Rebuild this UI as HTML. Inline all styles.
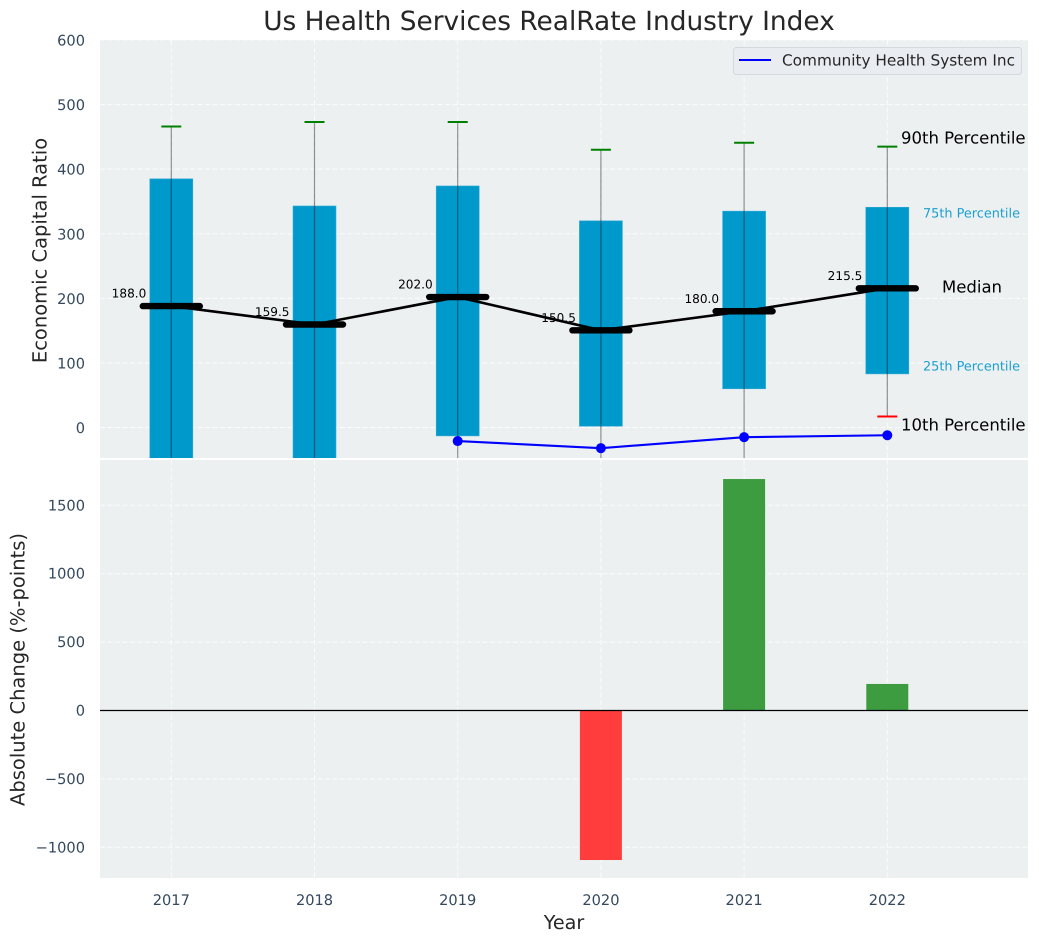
<!DOCTYPE html>
<html>
<head>
<meta charset="utf-8">
<title>Us Health Services RealRate Industry Index</title>
<style>
html,body{margin:0;padding:0;background:#fff;}
svg{display:block;font-family:"DejaVu Sans","Liberation Sans",sans-serif;text-rendering:geometricPrecision;}
</style>
</head>
<body>
<svg id="chart" width="1039" height="942" viewBox="0 0 1039 942" xmlns="http://www.w3.org/2000/svg">
<defs>
<clipPath id="clip-top"><rect x="100" y="40" width="928" height="418"></rect></clipPath>
<clipPath id="clip-bottom"><rect x="100" y="460" width="928" height="418"></rect></clipPath>
</defs>
</svg>
<script>
const years = [2017, 2018, 2019, 2020, 2021, 2022];
const p10 = [-120, -110, -90, -100, -80, 17];
const p25 = [-70, -60, -13, 2, 60, 83];
const medians = [188.0, 159.5, 202.0, 150.5, 180.0, 215.5];
const p75 = [385, 343, 374, 320, 335, 341];
const p90 = [466, 473, 473, 430, 441, 435];
const company = [null, null, -21, -32, -15, -12];
const changes = [0, 0, 0, -1093, 1692, 194];
const topTicks = [0, 100, 200, 300, 400, 500, 600];
const bottomTicks = [-1000, -500, 0, 500, 1000, 1500];

const svgRoot = document.getElementById('chart');
const NS = 'http://www.w3.org/2000/svg';
function xScale(v) { return 171.3 + (v - 2017) * 143.2; }
function yTop(v) { return 427.5 - v * 0.6458; }
function yBottom(v) { return 710.5 - v * 0.1368; }

function make(tag, name, attrs, parent, text) {
  const el = document.createElementNS(NS, tag);
  
  
  for (const k in attrs) el.setAttribute(k, attrs[k]);
  if (text !== undefined) el.textContent = text;
  (parent || svgRoot).appendChild(el);
  return el;
}
function addLabel(name, x, y, str, size, fill, anchor, parent) {
  return make('text', name, {x: 0, y: 0, transform: 'translate(' + x + ',' + y + ')', 'font-size': size, fill: fill, 'text-anchor': anchor || 'start', 'dominant-baseline': 'central'}, parent, str);
}
const gridStyle = {stroke: '#ffffff', 'stroke-width': 1, 'stroke-dasharray': '5,2.5', 'stroke-opacity': 0.8};
const tickColor = '#34495e';
const textColor = '#262626';

/* backgrounds */
make('rect', 'top-panel-background', {x: 100, y: 40, width: 928, height: 418, fill: '#ecf0f1'});
make('rect', 'bottom-panel-background', {x: 100, y: 460, width: 928, height: 418, fill: '#ecf0f1'});

/* grids */
const topGrid = make('g', 'top-grid', {'clip-path': 'url(#clip-top)'});
const bottomGrid = make('g', 'bottom-grid', {'clip-path': 'url(#clip-bottom)'});
years.forEach(function (yr) {
  make('line', 'top-grid-x-' + yr, Object.assign({x1: xScale(yr), x2: xScale(yr), y1: 40, y2: 458}, gridStyle), topGrid);
  make('line', 'bottom-grid-x-' + yr, Object.assign({x1: xScale(yr), x2: xScale(yr), y1: 460, y2: 878}, gridStyle), bottomGrid);
});
topTicks.forEach(function (t) {
  make('line', 'top-grid-y-' + t, Object.assign({x1: 100, x2: 1028, y1: yTop(t), y2: yTop(t)}, gridStyle), topGrid);
  addLabel('top-y-tick-' + t, 85, yTop(t) + 1, String(t), 14.6, tickColor, 'end');
});
bottomTicks.forEach(function (t) {
  make('line', 'bottom-grid-y-' + t, Object.assign({x1: 100, x2: 1028, y1: yBottom(t), y2: yBottom(t)}, gridStyle), bottomGrid);
  addLabel('bottom-y-tick-' + t, 85, yBottom(t) + 0.5, String(t).replace('-', '\u2212'), 14.6, tickColor, 'end');
});

/* top panel marks */
const topArea = make('g', 'top-plot-area', {'clip-path': 'url(#clip-top)'});
const barHalf = 0.15 * 143.2;
years.forEach(function (yr, i) {
  const x = xScale(yr);
  make('rect', 'iqr-bar-' + yr, {x: x - barHalf, y: yTop(p75[i]), width: barHalf * 2, height: yTop(p25[i]) - yTop(p75[i]), fill: '#0099cc', stroke: '#33aad4', 'stroke-width': 0.6}, topArea);
});
years.forEach(function (yr, i) {
  const x = xScale(yr);
  make('line', 'whisker-' + yr, {x1: x, x2: x, y1: yTop(p10[i]), y2: yTop(p90[i]), stroke: '#000000', 'stroke-opacity': 0.42, 'stroke-width': 1.2}, topArea);
  make('line', 'p90-cap-' + yr, {x1: x - 10, x2: x + 10, y1: yTop(p90[i]), y2: yTop(p90[i]), stroke: '#008000', 'stroke-width': 2}, topArea);
  make('line', 'p10-cap-' + yr, {x1: x - 10, x2: x + 10, y1: yTop(p10[i]), y2: yTop(p10[i]), stroke: '#ff0000', 'stroke-width': 2}, topArea);
});
make('polyline', 'median-line', {points: years.map(function (yr, i) { return xScale(yr) + ',' + yTop(medians[i]); }).join(' '), fill: 'none', stroke: '#000000', 'stroke-width': 2.6}, topArea);
years.forEach(function (yr, i) {
  const x = xScale(yr), y = yTop(medians[i]);
  make('line', 'median-tick-' + yr, {x1: x - 28.5, x2: x + 28.5, y1: y, y2: y, stroke: '#000000', 'stroke-width': 6.4, 'stroke-linecap': 'round'}, topArea);
  addLabel('median-value-' + yr, x - 25, y - 12.5, medians[i].toFixed(1), 12.1, '#000000', 'end', topArea);
});
const companyPoints = [];
years.forEach(function (yr, i) { if (company[i] !== null) companyPoints.push(xScale(yr) + ',' + yTop(company[i])); });
make('polyline', 'company-line', {points: companyPoints.join(' '), fill: 'none', stroke: '#0000ff', 'stroke-width': 2.1}, topArea);
years.forEach(function (yr, i) {
  if (company[i] === null) return;
  make('circle', 'company-point-' + yr, {cx: xScale(yr), cy: yTop(company[i]), r: 5, fill: '#0000ff'}, topArea);
});

/* annotations */
addLabel('annotation-90th-percentile', 901, 138, '90th Percentile', 16.5, '#000000');
addLabel('annotation-75th-percentile', 923, 214, '75th Percentile', 12.85, '#1a9fd0');
addLabel('annotation-median', 942, 287, 'Median', 16.5, '#000000');
addLabel('annotation-25th-percentile', 923, 367, '25th Percentile', 12.85, '#1a9fd0');
addLabel('annotation-10th-percentile', 901, 425, '10th Percentile', 16.5, '#000000');

/* bottom panel marks */
const bottomArea = make('g', 'bottom-plot-area', {'clip-path': 'url(#clip-bottom)'});
years.forEach(function (yr, i) {
  if (changes[i] === 0) return;
  const y0 = yBottom(0), y1 = yBottom(changes[i]);
  make('rect', 'change-bar-' + yr, {x: xScale(yr) - 21, y: Math.min(y0, y1), width: 42, height: Math.abs(y1 - y0), fill: changes[i] >= 0 ? '#3c9c3f' : '#ff3d3d'}, bottomArea);
});
make('line', 'zero-line', {x1: 100, x2: 1028, y1: yBottom(0), y2: yBottom(0), stroke: '#000000', 'stroke-width': 1.2});

/* x ticks */
years.forEach(function (yr) {
  addLabel('x-tick-' + yr, xScale(yr), 900.5, String(yr), 14.6, tickColor, 'middle');
});

/* legend */
const legendGroup = make('g', 'legend', {});
make('rect', 'legend-frame', {x: 733.5, y: 47.5, width: 288, height: 27, rx: 3, fill: '#e9ecf1', stroke: '#d5d8dc', 'stroke-width': 1}, legendGroup);
make('line', 'legend-line', {x1: 739, x2: 771, y1: 60, y2: 60, stroke: '#0000ff', 'stroke-width': 2}, legendGroup);
addLabel('legend-label', 782, 60.5, 'Community Health System Inc', 15.3, textColor, 'start', legendGroup);

/* titles */
addLabel('chart-title', 549, 21.5, 'Us Health Services RealRate Industry Index', 26.4, textColor, 'middle');
addLabel('x-axis-title', 564, 922.5, 'Year', 19.2, textColor, 'middle');
const yTitleTop = addLabel('top-y-axis-title', 0, 0, 'Economic Capital Ratio', 19.5, textColor, 'middle');
yTitleTop.setAttribute('transform', 'translate(40,250.5) rotate(-90)');
const yTitleBottom = addLabel('bottom-y-axis-title', 0, 0, 'Absolute Change (%-points)', 19.5, textColor, 'middle');
yTitleBottom.setAttribute('transform', 'translate(18,669.5) rotate(-90)');
</script>
</body>
</html>
